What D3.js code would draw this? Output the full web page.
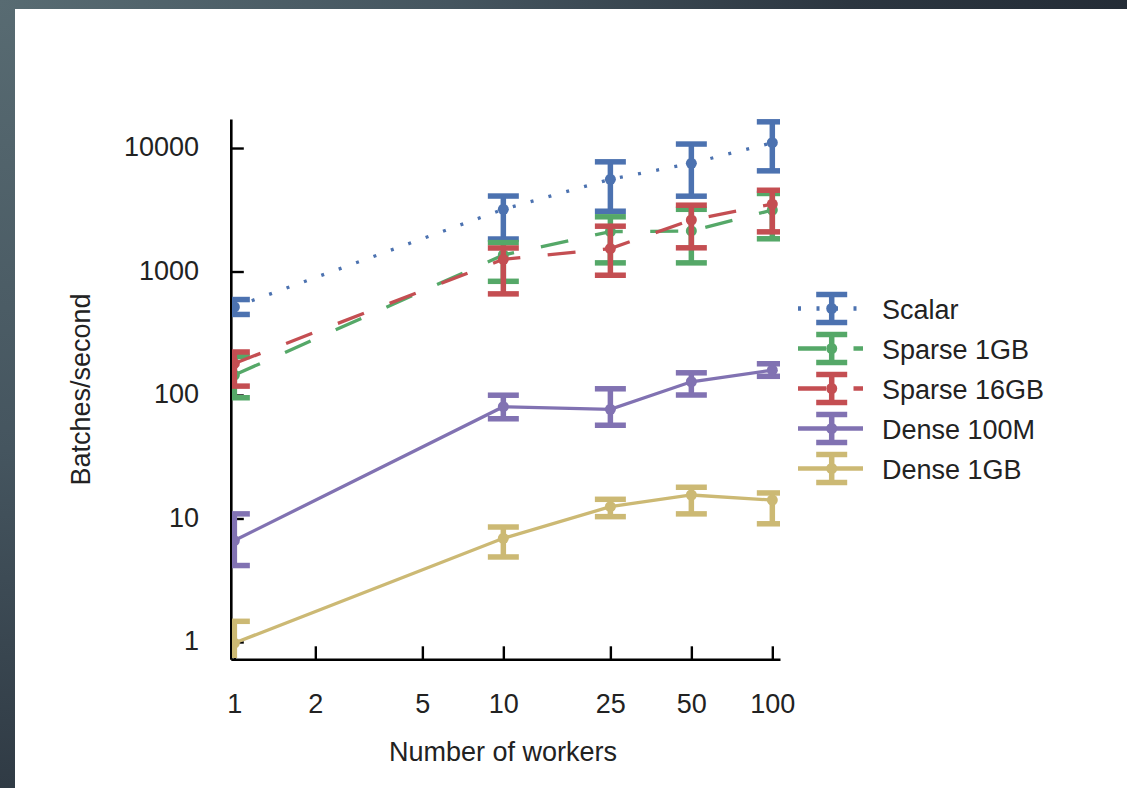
<!DOCTYPE html>
<html>
<head>
<meta charset="utf-8">
<script src="https://cdn.jsdelivr.net/npm/d3@7/dist/d3.min.js"></script>
<style>
  html, body { margin: 0; padding: 0; }
  body {
    width: 1127px; height: 788px; overflow: hidden;
    background: radial-gradient(circle at 0 0, #586b72 0%, #45555f 450px, #2c3640 850px, #222a34 1200px);
    position: relative;
  }
  #panel {
    position: absolute; left: 15px; top: 9px; width: 1112px; height: 779px;
    background: #ffffff;
  }
  svg { position: absolute; left: 0; top: 0; }
  text { font-family: "Liberation Sans", Arial, Helvetica, sans-serif; fill: #222; }
</style>
</head>
<body>
<div id="panel"></div>
<svg id="chart" width="1127" height="788"></svg>
<script>
// Throughput per number of workers (batches/second), with error ranges
const workers = [1, 10, 25, 50, 100];

const scalarMean = [516, 3190, 5580, 7515, 11040];
const scalarLow  = [449, 1833, 3077, 4074, 6535];
const scalarHigh = [593, 4085, 7730, 10770, 16300];

const sparse1Mean = [145, 1361, 2105, 2130, 3148];
const sparse1Low  = [95, 833, 1175, 1175, 1841];
const sparse1High = [205, 1714, 2774, 3190, 4285];

const sparse16Mean = [180, 1256, 1535, 2613, 3520];
const sparse16Low  = [118, 659, 933, 1556, 2095];
const sparse16High = [223, 1550, 2328, 3443, 4550];

const dense100Mean = [6.63, 80.4, 76.6, 128, 159];
const dense100Low  = [4.16, 64.2, 56.9, 100, 141.7];
const dense100High = [10.9, 99.6, 112.3, 151.3, 179];

const dense1Mean = [0.98, 6.91, 12.47, 15.5, 14.1];
const dense1Low  = [0.5, 4.88, 10.35, 10.9, 9.06];
const dense1High = [1.47, 8.53, 14.3, 17.9, 16.1];

const seriesNames = ["Scalar", "Sparse 1GB", "Sparse 16GB", "Dense 100M", "Dense 1GB"];
const seriesColors = ["#4c72b0", "#55a868", "#c44e52", "#8172b2", "#ccb974"];
const seriesDash = ["3 15.5", "28 27.5", "28 27.5", null, null];

const xTicks = [1, 2, 5, 10, 25, 50, 100];
const yTicks = [1, 10, 100, 1000, 10000];

const series = [
  [scalarMean, scalarLow, scalarHigh],
  [sparse1Mean, sparse1Low, sparse1High],
  [sparse16Mean, sparse16Low, sparse16High],
  [dense100Mean, dense100Low, dense100High],
  [dense1Mean, dense1Low, dense1High]
].map((s, i) => ({
  name: seriesNames[i],
  color: seriesColors[i],
  dash: seriesDash[i],
  points: workers.map((w, j) => ({ x: w, y: s[0][j], lo: s[1][j], hi: s[2][j] }))
}));

const svg = d3.select("#chart");

const x = d3.scaleLog().domain([0.97, 106.8]).range([230.8, 780]);
const y = d3.scaleLog().domain([0.724, 17180]).range([659.3, 119]);

const lineW = 3.3;
const barW = 5.5;
const capHalf = 15.5;
const fontSize = 27;

// axes (drawn first so the data sits over the tick marks)
const xAxis = d3.axisBottom(x).tickValues(xTicks).tickFormat(d3.format("d"))
  .tickSizeInner(-13).tickSizeOuter(0).tickPadding(34.5);
const yAxis = d3.axisLeft(y).tickValues(yTicks).tickFormat(d3.format("d"))
  .tickSizeInner(-13).tickSizeOuter(0).tickPadding(31.8);

const gx = svg.append("g").attr("transform", `translate(0,${y.range()[0]})`).call(xAxis);
const gy = svg.append("g").attr("transform", `translate(${x.range()[0]},0)`).call(yAxis);

[gx, gy].forEach(g => {
  g.select(".domain").attr("stroke", "#000").attr("stroke-width", 2.6);
  g.selectAll(".tick line").attr("stroke", "#000").attr("stroke-width", 2.4);
  g.selectAll(".tick text")
    .style("font-family", '"Liberation Sans", Arial, sans-serif')
    .style("font-size", fontSize + "px")
    .attr("fill", "#222");
});
gy.selectAll(".tick text").attr("dy", "7.6");

// axis titles
svg.append("text")
  .attr("x", 503).attr("y", 761)
  .attr("text-anchor", "middle")
  .style("font-size", fontSize + "px")
  .text("Number of workers");

svg.append("text")
  .attr("transform", "translate(90,389.5) rotate(-90)")
  .attr("text-anchor", "middle")
  .style("font-size", fontSize + "px")
  .text("Batches/second");

// plot area clip
svg.append("clipPath").attr("id", "plotClip")
  .append("rect")
  .attr("x", x.range()[0] + 1.3).attr("y", 100)
  .attr("width", x.range()[1] - x.range()[0] - 1.3)
  .attr("height", y.range()[0] - 1.3 - 100);

const plot = svg.append("g").attr("clip-path", "url(#plotClip)");

const line = d3.line().x(d => x(d.x)).y(d => y(d.y));

series.forEach(s => {
  const g = plot.append("g");
  g.append("path")
    .datum(s.points)
    .attr("d", line)
    .attr("fill", "none")
    .attr("stroke", s.color)
    .attr("stroke-width", lineW)
    .attr("stroke-dasharray", s.dash);

  const bars = g.selectAll("g.bar").data(s.points).join("g").attr("class", "bar");
  bars.append("line")
    .attr("x1", d => x(d.x)).attr("x2", d => x(d.x))
    .attr("y1", d => y(d.lo)).attr("y2", d => y(d.hi))
    .attr("stroke", s.color).attr("stroke-width", barW);
  bars.append("line")
    .attr("x1", d => x(d.x) - capHalf).attr("x2", d => x(d.x) + capHalf)
    .attr("y1", d => y(d.hi)).attr("y2", d => y(d.hi))
    .attr("stroke", s.color).attr("stroke-width", barW);
  bars.append("line")
    .attr("x1", d => x(d.x) - capHalf).attr("x2", d => x(d.x) + capHalf)
    .attr("y1", d => y(d.lo)).attr("y2", d => y(d.lo))
    .attr("stroke", s.color).attr("stroke-width", barW);
  bars.append("circle")
    .attr("cx", d => x(d.x)).attr("cy", d => y(d.y))
    .attr("r", 5.5)
    .attr("fill", s.color);
});

// legend
const legend = svg.append("g");
const legY0 = 308.5, legStep = 40;
series.forEach((s, i) => {
  const ly = legY0 + i * legStep;
  const g = legend.append("g");
  g.append("line")
    .attr("x1", 798).attr("x2", 863).attr("y1", ly).attr("y2", ly)
    .attr("stroke", s.color).attr("stroke-width", lineW + 1)
    .attr("stroke-dasharray", s.dash);
  g.append("line")
    .attr("x1", 831.7).attr("x2", 831.7).attr("y1", ly - 14).attr("y2", ly + 14)
    .attr("stroke", s.color).attr("stroke-width", barW);
  g.append("line")
    .attr("x1", 831.7 - capHalf).attr("x2", 831.7 + capHalf).attr("y1", ly - 14).attr("y2", ly - 14)
    .attr("stroke", s.color).attr("stroke-width", barW);
  g.append("line")
    .attr("x1", 831.7 - capHalf).attr("x2", 831.7 + capHalf).attr("y1", ly + 14).attr("y2", ly + 14)
    .attr("stroke", s.color).attr("stroke-width", barW);
  g.append("circle").attr("cx", 831.7).attr("cy", ly).attr("r", 5.5).attr("fill", s.color);
  g.append("text")
    .attr("x", 882).attr("y", ly + 10)
    .style("font-size", fontSize + "px")
    .text(s.name);
});
</script>
</body>
</html>
